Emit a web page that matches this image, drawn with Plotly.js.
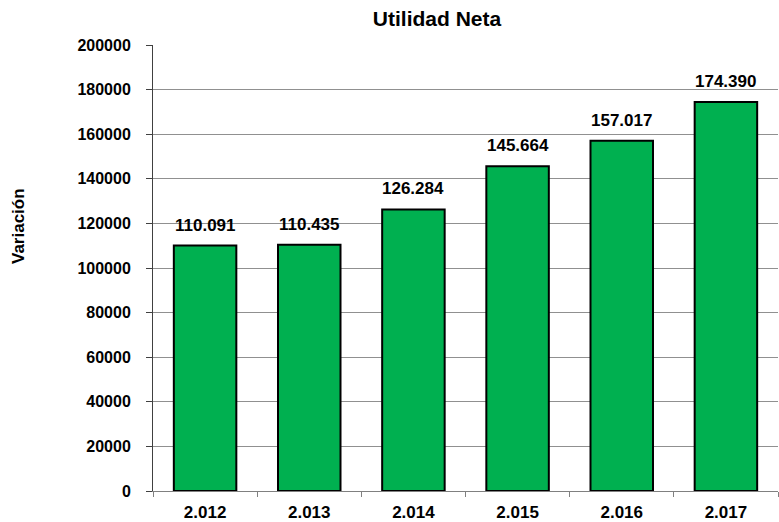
<!DOCTYPE html>
<html>
<head>
<meta charset="utf-8">
<script src="https://cdn.plot.ly/plotly-3.0.1.min.js"></script>
<style>html,body{margin:0;padding:0;background:#fff;}#chart{width:779px;height:522px;}</style>
</head>
<body>
<div id="chart"></div>
<script>
const categories = ['2.012', '2.013', '2.014', '2.015', '2.016', '2.017'];
const utilidadNeta = [110091, 110435, 126284, 145664, 157017, 174390];
const yTicks = [0, 20000, 40000, 60000, 80000, 100000, 120000, 140000, 160000, 180000, 200000];

const FONT = 'Arial, "Liberation Sans", sans-serif';
const fmt = v => String(v).replace(/\B(?=(\d{3})+(?!\d))/g, '.');

const trace = {
  type: 'bar',
  x: categories,
  y: utilidadNeta,
  marker: { color: '#00B050', line: { color: '#000000', width: 2 } },
  width: 0.6,
  hoverinfo: 'x+y'
};

const labelAnnotations = categories.map((c, i) => ({
  x: i, y: utilidadNeta[i], xref: 'x', yref: 'y',
  text: '<b>' + fmt(utilidadNeta[i]) + '</b>',
  showarrow: false, xanchor: 'center', yanchor: 'bottom', yshift: 9,
  font: { family: FONT, size: 17, color: '#000000' }
}));

const layout = {
  width: 779,
  height: 522,
  margin: { l: 153, r: 1, t: 45, b: 31 },
  paper_bgcolor: '#ffffff',
  plot_bgcolor: '#ffffff',
  showlegend: false,
  font: { family: FONT, color: '#000000' },
  title: {
    text: '<b>Utilidad Neta</b>',
    font: { family: FONT, size: 21, color: '#000000' },
    x: (437 - 153) / 625, xanchor: 'center', xref: 'paper',
    y: 1 - 19 / 522, yanchor: 'middle'
  },
  xaxis: {
    type: 'category',
    tickson: 'boundaries',
    ticks: 'outside',
    ticklen: 5,
    tickcolor: '#808080',
    showline: true,
    linecolor: '#808080',
    linewidth: 1,
    showgrid: false,
    ticklabelstandoff: 6,
    tickfont: { family: FONT, size: 17, color: '#000000', weight: 'bold' },
    fixedrange: true
  },
  yaxis: {
    range: [0, 200000],
    tickvals: yTicks,
    tickformat: 'd',
    ticks: 'outside',
    ticklen: 6,
    tickcolor: '#404040',
    showline: true,
    linecolor: '#404040',
    linewidth: 1,
    showgrid: true,
    gridcolor: '#909090',
    gridwidth: 1,
    zeroline: false,
    ticklabelstandoff: 12,
    tickfont: { family: FONT, size: 16, color: '#000000', weight: 'bold' },
    fixedrange: true
  },
  annotations: [{
    text: '<b>Variación</b>',
    xref: 'paper', yref: 'paper',
    x: -134 / 625, y: (491 - 226) / 446,
    xanchor: 'center', yanchor: 'middle',
    showarrow: false, textangle: -90,
    font: { family: FONT, size: 17, color: '#000000' }
  }].concat(labelAnnotations)
};

Plotly.newPlot('chart', [trace], layout, { displayModeBar: false, staticPlot: true });
</script>
</body>
</html>
